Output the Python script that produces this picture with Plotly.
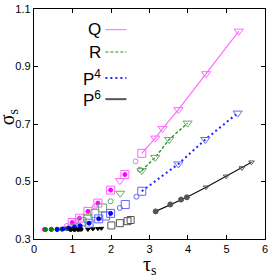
import plotly.graph_objects as go

# ---------------- data ----------------
# Q (magenta)
q_line_x = [2.80, 3.15, 3.34, 3.75, 4.47, 5.32]
q_line_y = [0.598, 0.651, 0.684, 0.750, 0.875, 1.023]
q_sq_x = [0.99, 1.18, 1.40, 1.66, 1.99, 2.36]
q_sq_y = [0.357, 0.372, 0.396, 0.425, 0.470, 0.524]
q_ci_x = [0.85, 1.10, 1.58, 2.64]
q_ci_y = [0.345, 0.362, 0.413, 0.570]
q_tr_x = [2.23]
q_tr_y = [0.503]
q_dot_x = [0.27, 0.45, 0.99, 1.18, 1.40, 1.66, 1.99, 2.36]
q_dot_y = [0.333, 0.334, 0.357, 0.372, 0.396, 0.425, 0.470, 0.524]

# R (green)
r_line_x = [2.80, 3.15, 3.51, 3.99]
r_line_y = [0.538, 0.584, 0.646, 0.703]
r_sq_x = [1.25, 1.40, 1.58, 1.78]
r_sq_y = [0.360, 0.372, 0.389, 0.408]
r_ci_x = [1.99, 2.75]
r_ci_y = [0.431, 0.541]
r_tr_x = [1.05, 2.24]
r_tr_y = [0.345, 0.459]
r_dot_x = [0.30, 0.45, 0.60, 0.72, 0.85]
r_dot_y = [0.333, 0.333, 0.334, 0.334, 0.336]

# P4 (blue)
p4_line_x = [2.80, 3.75, 4.45, 5.29]
p4_line_y = [0.466, 0.561, 0.646, 0.738]
p4_sq_x = [1.43, 1.68, 1.86, 1.99, 2.37]
p4_sq_y = [0.355, 0.370, 0.380, 0.389, 0.420]
p4_ci_x = [2.23, 2.66]
p4_ci_y = [0.408, 0.447]
p4_dot_x = [0.60, 0.75, 0.90, 1.05, 1.20, 1.43, 1.68, 1.99]
p4_dot_y = [0.333, 0.335, 0.338, 0.342, 0.346, 0.355, 0.370, 0.389]

# P6 (black)
p6_line_x = [3.16, 3.54, 3.82, 3.97, 4.47, 4.99, 5.40, 5.65]
p6_line_y = [0.396, 0.420, 0.437, 0.445, 0.480, 0.518, 0.547, 0.567]
p6_sq_x = [2.01, 2.23, 2.43, 2.51]
p6_sq_y = [0.347, 0.355, 0.362, 0.366]
p6_tr_x = [1.40, 1.53, 1.66, 1.75]
p6_tr_y = [0.333, 0.335, 0.336, 0.337]
p6_dot_x = [0.95, 1.05, 1.15, 1.22]
p6_dot_y = [0.333, 0.333, 0.333, 0.334]

x_ticks = [0, 1, 2, 3, 4, 5, 6]
y_ticks = [0.3, 0.5, 0.7, 0.9, 1.1]

legend_labels = ["Q", "R", "P<sup>4</sup>", "P<sup>6</sup>"]
x_title = "τ<sub>s</sub>"
y_title = "σ<sub>s</sub>"

# ---------------- styles ----------------
C_Q = "#ff66ff"
C_R = "#228b22"
C_P4 = "#2222ff"
C_P6 = "#111111"
M_Q = "#ff66ff"
M_R = "#66aa66"
M_P4 = "#6666ff"
M_P6 = "#555555"
DASH_R = "3px,2px"
DASH_P4 = "2px,3px"

fig = go.Figure()


def add_pts(x, y, symbol, color, size, width=1):
    fig.add_trace(go.Scatter(x=x, y=y, mode="markers", showlegend=False,
                             marker=dict(symbol=symbol, size=size, color=color,
                                         line=dict(color=color, width=width))))


def add_line(x, y, color, dash, width, symbols, mcolor, size):
    fig.add_trace(go.Scatter(x=x, y=y, mode="lines+markers", showlegend=False,
                             line=dict(color=color, dash=dash, width=width),
                             marker=dict(symbol=symbols, size=size, color=mcolor,
                                         line=dict(color=mcolor, width=1))))


# scatter clouds
add_pts(q_ci_x, q_ci_y, "circle-open", M_Q, 5)
add_pts(q_sq_x, q_sq_y, "square-open", M_Q, 8)
add_pts(q_tr_x, q_tr_y, "triangle-down-open", M_Q, 8)
add_pts(q_dot_x, q_dot_y, "circle", "#ff00ff", 4)

add_pts(r_ci_x, r_ci_y, "circle-open", M_R, 5)
add_pts(r_sq_x, r_sq_y, "square-open", M_R, 8)
add_pts(r_tr_x, r_tr_y, "triangle-down-open", M_R, 8)
add_pts(r_dot_x, r_dot_y, "circle", "#008800", 4)

add_pts(p4_ci_x, p4_ci_y, "circle-open", M_P4, 5)
add_pts(p4_sq_x, p4_sq_y, "square-open", M_P4, 8)
add_pts(p4_dot_x, p4_dot_y, "circle", "#0000ff", 4)

add_pts(p6_sq_x, p6_sq_y, "square-open", M_P6, 7)
add_pts(p6_tr_x, p6_tr_y, "triangle-down", "#000000", 4)
add_pts(p6_dot_x, p6_dot_y, "circle", "#000000", 4)

# fitted lines
add_line(q_line_x, q_line_y, C_Q, "solid", 1.1,
         ["square-open"] + ["triangle-down-open"] * (len(q_line_x) - 1), M_Q, 8)
add_line(r_line_x, r_line_y, C_R, DASH_R, 1.3,
         ["triangle-down-open"] * len(r_line_x), M_R, 8)
add_line(p4_line_x, p4_line_y, C_P4, DASH_P4, 2,
         ["square-open"] + ["triangle-down-open"] * (len(p4_line_x) - 1), M_P4, 8)
add_line(p6_line_x, p6_line_y, C_P6, "solid", 1.2,
         ["circle"] * 4 + ["triangle-down-open"] * (len(p6_line_x) - 4), M_P6, 5)

# ---------------- legend (text left of line sample) ----------------
leg_y = [0.910, 0.813, 0.700, 0.608]
leg_styles = [(C_Q, "solid", 1), (C_R, DASH_R, 1.2), (C_P4, DASH_P4, 2), ("#555555", "solid", 2)]
for lab, yy, (col, dash, w) in zip(legend_labels, leg_y, leg_styles):
    fig.add_annotation(x=0.300, y=yy, xref="paper", yref="paper", text=lab,
                       showarrow=False, xanchor="right", yanchor="middle",
                       font=dict(family="Liberation Sans, Arial", size=17, color="black"))
    fig.add_shape(type="line", xref="paper", yref="paper", x0=0.309, x1=0.400,
                  y0=yy, y1=yy, line=dict(color=col, dash=dash, width=w))

# axis titles
fig.add_annotation(x=0.5, y=-0.115, xref="paper", yref="paper", text=x_title,
                   showarrow=False, xanchor="center", yanchor="middle",
                   font=dict(family="Liberation Serif, Times New Roman", size=20, color="black"))
fig.add_annotation(x=-0.112, y=0.53, xref="paper", yref="paper", text=y_title,
                   showarrow=False, xanchor="center", yanchor="middle", textangle=-90,
                   font=dict(family="Liberation Serif, Times New Roman", size=20, color="black"))

axis_common = dict(showline=True, linecolor="black", linewidth=1.3, mirror="ticks",
                   ticks="inside", ticklen=4, tickcolor="black", showgrid=False,
                   zeroline=False, automargin=False,
                   tickfont=dict(family="Liberation Sans, Arial", size=11, color="black"))

fig.update_layout(
    width=277, height=277,
    margin=dict(l=34, r=12, t=9, b=38),
    plot_bgcolor="white", paper_bgcolor="white",
    xaxis=dict(range=[-0.0005, 6.0005], tickvals=x_ticks, ticktext=[str(t) for t in x_ticks],
               **axis_common),
    yaxis=dict(range=[0.2999, 1.1001], tickvals=y_ticks, ticktext=[f"{t:.1f}" for t in y_ticks],
               **axis_common),
)

fig.write_html("out.html", config={"displayModeBar": False},
               post_script="document.body.style.margin='0';")
